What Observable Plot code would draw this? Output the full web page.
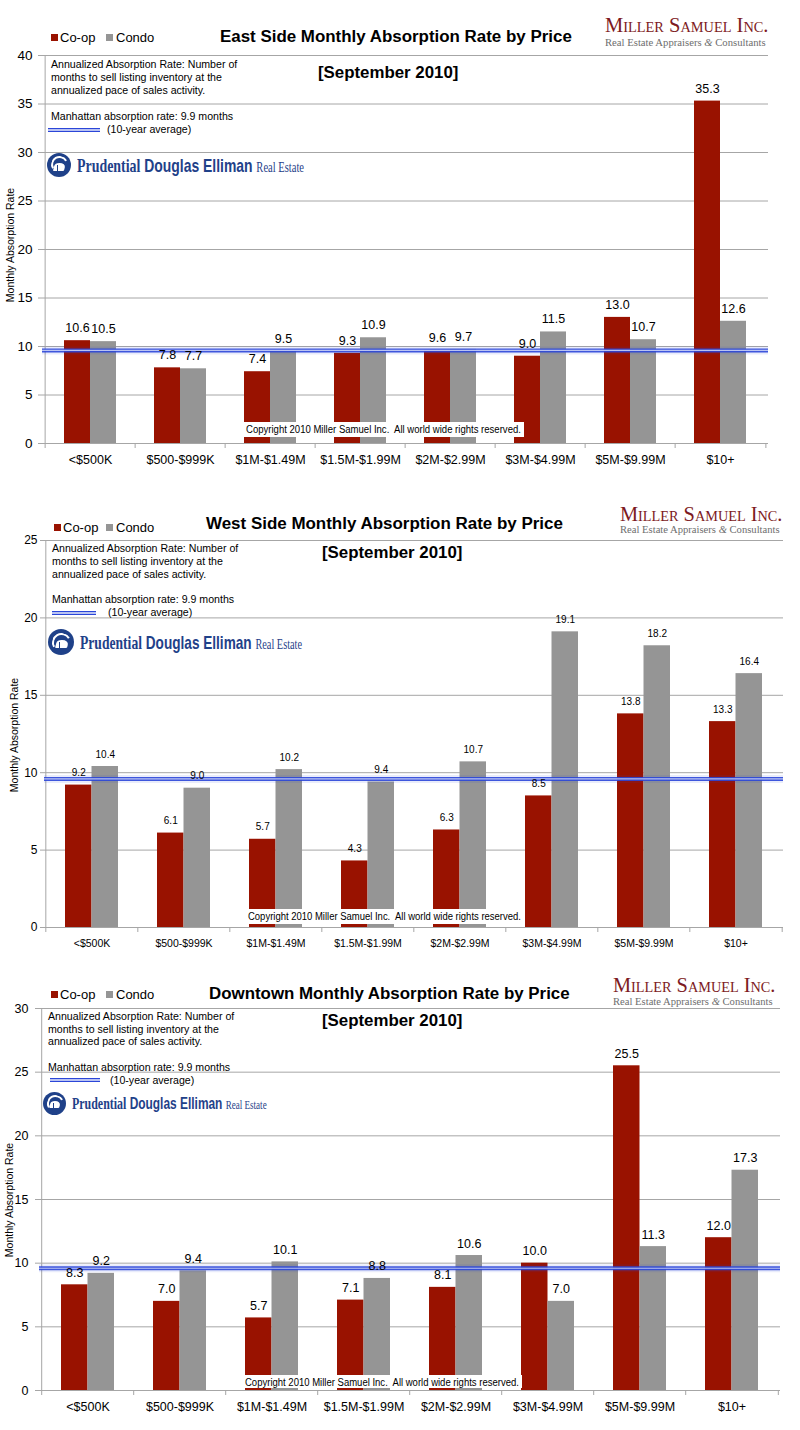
<!DOCTYPE html>
<html><head><meta charset="utf-8">
<script src="https://cdn.jsdelivr.net/npm/d3@7"></script>
<script src="https://cdn.jsdelivr.net/npm/@observablehq/plot@0.6"></script>
<style>
body{margin:0;background:#fff;}
#root{position:relative;width:800px;height:1430px;overflow:hidden;font-family:"Liberation Sans",Arial,sans-serif;background:#fff;}
.t{position:absolute;white-space:nowrap;line-height:1;transform-origin:left center;z-index:5;}
.b{position:absolute;z-index:4;}
svg.panel{position:absolute;left:0;z-index:1;}
.lserif{font-family:"Liberation Serif","Times New Roman",serif;}
.lnarrow{font-family:"Liberation Sans Narrow","Liberation Sans",Arial,sans-serif;}
</style></head><body><div id="root"></div>
<script>
// ---------------- DATA ----------------
const categories = ["<$500K","$500-$999K","$1M-$1.49M","$1.5M-$1.99M","$2M-$2.99M","$3M-$4.99M","$5M-$9.99M","$10+"];
const seriesNames = ["Co-op","Condo"];
const eastCoop  = [10.6, 7.8, 7.4, 9.3, 9.6, 9.0, 13.0, 35.3];
const eastCondo = [10.5, 7.7, 9.5, 10.9, 9.7, 11.5, 10.7, 12.6];
const westCoop  = [9.2, 6.1, 5.7, 4.3, 6.3, 8.5, 13.8, 13.3];
const westCondo = [10.4, 9.0, 10.2, 9.4, 10.7, 19.1, 18.2, 16.4];
const downCoop  = [8.3, 7.0, 5.7, 7.1, 8.1, 10.0, 25.5, 12.0];
const downCondo = [9.2, 9.4, 10.1, 8.8, 10.6, 7.0, 11.3, 17.3];
const eastTicks = [0, 5, 10, 15, 20, 25, 30, 35, 40];
const westTicks = [0, 5, 10, 15, 20, 25];
const downTicks = [0, 5, 10, 15, 20, 25, 30];
const averageLine = 9.6; // position of the drawn 10-year average line
const titles = ["East Side Monthly Absorption Rate by Price", "West Side Monthly Absorption Rate by Price", "Downtown Monthly Absorption Rate by Price"];
const subtitle = "[September 2010]";
const noteLines = ["Annualized Absorption Rate: Number of", "months to sell listing inventory at the", "annualized pace of sales activity."];
const avgNote = "Manhattan absorption rate: 9.9 months";
const avgNote2 = "(10-year average)";
const yTitle = "Monthly Absorption Rate";
const copyright = "Copyright 2010 Miller Samuel Inc.  All world wide rights reserved.";

// ---------------- STYLE ----------------
const SANS = '"Liberation Sans", Arial, Helvetica, sans-serif';
const SERIF = '"Liberation Serif", "Times New Roman", serif';
const RED = "#991200", GRAY = "#959595", GRID = "#a6a6a6", BLUE = "#2b46d8", LOGO = "#1f4189", MSRED = "#7d1a22";
const root = document.getElementById("root");

function txt(s, x, y, o = {}) {
  const el = document.createElement("div");
  el.className = "t";
  if (o.html) el.innerHTML = s; else el.textContent = s;
  el.style.fontSize = (o.size || 11) + "px";
  el.style.fontWeight = o.weight || "normal";
  el.style.color = o.color || "#000";
  el.style.fontFamily = o.family || SANS;
  if (o.variant) el.style.fontVariant = o.variant;
  el.style.whiteSpace = "pre";
  el.style.top = y + "px";
  el.style.left = x + "px";
  root.appendChild(el);
  const w0 = el.offsetWidth;
  const sx = o.scale || (o.w ? o.w / w0 : 1);
  const left = o.anchor === "middle" ? x - w0 * sx / 2 : x;
  el.style.left = left + "px";
  el.style.transform = `translateY(-50%) scaleX(${sx})`;
  return sx;
}
function box(x, y, w, h, st) {
  const el = document.createElement("div");
  el.className = "b";
  Object.assign(el.style, {left: x + "px", top: y + "px", width: w + "px", height: h + "px"}, st || {});
  root.appendChild(el);
  return el;
}
function logo(x, cy, d, x2, s) {
  const c = box(x, cy - d / 2, d, d, {background: LOGO, borderRadius: "50%", overflow: "hidden"});
  const a = document.createElement("div");
  Object.assign(a.style, {position: "absolute", left: (d * 0.16) + "px", top: (d * 0.14) + "px", width: (d * 0.72) + "px", height: (d * 0.72) + "px",
    borderRadius: "50%", border: "2px solid #fff", borderColor: "#fff transparent transparent #fff", boxSizing: "border-box", transform: "rotate(15deg)"});
  c.appendChild(a);
  const r = document.createElement("div");
  Object.assign(r.style, {position: "absolute", left: (d * 0.3) + "px", top: (d * 0.42) + "px", width: (d * 0.45) + "px", height: (d * 0.32) + "px",
    background: "#fff", borderRadius: "40% 60% 10% 10%", transform: "skewX(-15deg)"});
  c.appendChild(r);
  const r2 = document.createElement("div");
  Object.assign(r2.style, {position: "absolute", left: (d * 0.42) + "px", top: (d * 0.5) + "px", width: (d * 0.05) + "px", height: (d * 0.24) + "px", background: LOGO});
  c.appendChild(r2);
  const x1 = x + d + 6;
  const html = `<span class="lserif" style="font-weight:bold;font-size:${s}px">Prudential</span><span class="lnarrow" style="font-weight:bold;font-size:${s}px"> Douglas Elliman </span><span class="lserif" style="font-size:${(s * 0.76).toFixed(1)}px">Real Estate</span>`;
  txt(html, x1, cy, {html: true, color: LOGO, size: s, w: x2 - x1});
}
function millerSamuel(x1, x2, y1, y2, s1, s2) {
  txt("Miller Samuel Inc.", x1, y1, {family: SERIF, variant: "small-caps", size: s1, color: MSRED, w: x2 - x1});
  txt("Real Estate Appraisers <i>&amp;</i> Consultants", x1, y2, {html: true, family: SERIF, size: s2, color: "#6e6e6e", w: x2 - x1 - 2});
}

function drawPanel(cfg, coop, condo, yTicks) {
  const n = categories.length;
  const plotW = 800 - cfg.ml - cfg.mr;
  const step = plotW / n;
  const pad = 1 - (2 * cfg.barW) / step;
  const rows = categories.map((c, i) => ({cat: c, coop: coop[i], condo: condo[i]}));
  const svg = Plot.plot({
    width: 800, height: cfg.h,
    marginTop: cfg.mt, marginBottom: cfg.mb, marginLeft: cfg.ml, marginRight: cfg.mr,
    style: {fontFamily: SANS, background: "transparent", color: "#000", overflow: "visible"},
    x: {domain: categories, paddingInner: pad, paddingOuter: pad / 2, align: 0.5, axis: null},
    y: {domain: [0, yTicks[yTicks.length - 1]], axis: null},
    marks: [
      Plot.ruleY(yTicks, {y: d => d, stroke: GRID, strokeWidth: 1, insetLeft: -4}),
      Plot.ruleX([categories[0]], {x: d => d, dx: -step / 2, stroke: GRID}),
      Plot.ruleX(categories, {x: d => d, dx: -step / 2, y1: 0, y2: 0, insetBottom: -5, stroke: GRID}),
      Plot.ruleX([categories[n - 1]], {x: d => d, dx: step / 2, y1: 0, y2: 0, insetBottom: -5, stroke: GRID}),
      Plot.barY(rows, {x: "cat", y: "coop", fill: RED, insetRight: cfg.barW}),
      Plot.barY(rows, {x: "cat", y: "condo", fill: GRAY, insetLeft: cfg.barW}),
      Plot.ruleY([averageLine], {stroke: BLUE, strokeWidth: 8, strokeOpacity: 0.1}),
      Plot.ruleY([averageLine], {stroke: BLUE, strokeWidth: 4, strokeOpacity: 0.9}),
      Plot.ruleY([averageLine], {stroke: "#c9d0f6", strokeWidth: 1.2, strokeOpacity: 0.9}),
      Plot.text(rows, {x: "cat", y: "coop", text: d => d.coop.toFixed(1), dx: -cfg.barW / 2, dy: cfg.valDy, fontSize: cfg.valFont, fill: "#000"}),
      Plot.text(rows, {x: "cat", y: "condo", text: d => d.condo.toFixed(1), dx: cfg.barW / 2, dy: cfg.valDy, fontSize: cfg.valFont, fill: "#000"}),
      Plot.text(categories, {x: d => d, y: () => 0, text: d => d, lineAnchor: "top", dy: cfg.xPad, fontSize: cfg.xFont, fill: "#000"}),
      Plot.text(yTicks, {y: d => d, text: d => String(d), frameAnchor: "left", dx: -cfg.tickGap, textAnchor: "end", fontSize: cfg.tickFont, fill: "#000"})
    ]
  });
  svg.classList.add("panel");
  svg.style.top = cfg.top + "px";
  root.appendChild(svg);
}

function decorate(p, idx) {
  box(p.legRed, p.legY - 3.5, 7, 7, {background: RED});
  txt(seriesNames[0], p.legRed + 9, p.legY, {size: 13});
  box(p.legGray, p.legY - 3.5, 7, 7, {background: GRAY});
  txt(seriesNames[1], p.legGray + 10, p.legY, {size: 13});
  txt(titles[idx], p.titleX, p.titleY, {size: 16, weight: "bold", w: p.titleW, anchor: "middle"});
  txt(subtitle, p.subX, p.subY, {size: 16, weight: "bold", w: 140, anchor: "middle"});
  const sc = txt(noteLines[0], p.noteX, p.noteY[0], {size: 11, w: 186});
  txt(noteLines[1], p.noteX, p.noteY[1], {size: 11, scale: sc});
  txt(noteLines[2], p.noteX, p.noteY[2], {size: 11, scale: sc});
  txt(avgNote, p.noteX, p.avgY, {size: 11, scale: sc});
  box(p.sampleX1, p.sampleY - 2, p.sampleX2 - p.sampleX1, 4, {background: "#b9c3f2", borderTop: "1px solid " + BLUE, borderBottom: "1px solid " + BLUE, boxSizing: "border-box"});
  txt(avgNote2, p.avg2X, p.avg2Y, {size: 11, scale: sc});
  logo(p.logoX, p.logoY, p.logoD, p.logoX2, p.logoS);
  millerSamuel(p.msX1, p.msX2, p.msY1, p.msY2, 20, 11);
  box(p.cbX1, p.cbY1, p.cbX2 - p.cbX1, p.cbY2 - p.cbY1, {background: "#fff"});
  txt(copyright, p.cX, p.cY, {size: 10, w: p.cW});
  const el = document.createElement("div");
  el.className = "t";
  el.textContent = yTitle;
  Object.assign(el.style, {fontSize: p.ytSize + "px", left: p.ytX + "px", top: p.ytY + "px", transformOrigin: "center center", transform: "translate(-50%,-50%) rotate(-90deg)"});
  root.appendChild(el);
}

const panels = [
  {top: 0, h: 480, mt: 55, mb: 37, ml: 42, mr: 32, tickFont: 13.5, tickGap: 10, xFont: 12.5, xPad: 12, valFont: 12.5, valDy: -12.5, barW: 26},
  {top: 480, h: 480, mt: 60, mb: 33, ml: 44, mr: 17, tickFont: 12, tickGap: 7, xFont: 10.5, xPad: 12, valFont: 10, valDy: -12, barW: 26.5},
  {top: 960, h: 470, mt: 48, mb: 40, ml: 39, mr: 20, tickFont: 12.5, tickGap: 11, xFont: 12.5, xPad: 12, valFont: 12.5, valDy: -12, barW: 26.5}
];
const deco = [
  {legY: 37, legRed: 51, legGray: 106, titleX: 396, titleY: 37, titleW: 352, subX: 388, subY: 73,
   noteX: 51, noteY: [64, 77, 90], avgY: 116, sampleX1: 48, sampleX2: 100, sampleY: 130, avg2X: 107, avg2Y: 129,
   logoX: 47, logoY: 165, logoD: 24, logoX2: 304, logoS: 19,
   msX1: 605, msX2: 768, msY1: 25, msY2: 42,
   cbX1: 243, cbX2: 524, cbY1: 422, cbY2: 437, cX: 246, cY: 430, cW: 275,
   ytX: 10, ytY: 245, ytSize: 10.5},
  {legY: 527, legRed: 54, legGray: 106, titleX: 384.5, titleY: 524, titleW: 357, subX: 392, subY: 553,
   noteX: 52, noteY: [548, 561, 574], avgY: 599, sampleX1: 52, sampleX2: 96, sampleY: 613, avg2X: 108, avg2Y: 612,
   logoX: 48, logoY: 642, logoD: 26, logoX2: 302, logoS: 19,
   msX1: 620, msX2: 782, msY1: 514, msY2: 529,
   cbX1: 246, cbX2: 523, cbY1: 909, cbY2: 924, cX: 248, cY: 917, cW: 273,
   ytX: 14, ytY: 735, ytSize: 10.5},
  {legY: 994, legRed: 51, legGray: 106, titleX: 389.5, titleY: 994, titleW: 361, subX: 392, subY: 1021,
   noteX: 48, noteY: [1016, 1029, 1041], avgY: 1067, sampleX1: 50, sampleX2: 100, sampleY: 1080, avg2X: 110, avg2Y: 1080,
   logoX: 43, logoY: 1103, logoD: 23, logoX2: 267, logoS: 17,
   msX1: 613, msX2: 775, msY1: 985, msY2: 1001,
   cbX1: 243, cbX2: 522, cbY1: 1375, cbY2: 1388, cX: 245, cY: 1383, cW: 274,
   ytX: 9, ytY: 1200, ytSize: 10.5}
];

drawPanel(panels[0], eastCoop, eastCondo, eastTicks);
drawPanel(panels[1], westCoop, westCondo, westTicks);
drawPanel(panels[2], downCoop, downCondo, downTicks);
deco.forEach((p, i) => decorate(p, i));
</script></body></html>
